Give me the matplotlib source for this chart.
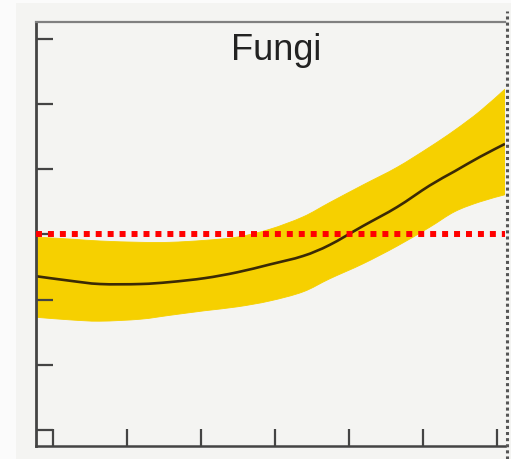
import matplotlib
matplotlib.use("Agg")
import numpy as np
import matplotlib.pyplot as plt
from matplotlib.patches import Rectangle, PathPatch
from matplotlib.path import Path
from matplotlib.lines import Line2D

# Smoothed trend for fungi with its confidence band
x = [-0.23, 0.23, 0.635, 1.18, 1.58, 2.05, 2.49, 2.93, 3.38, 3.74, 4.19, 4.65, 5.09, 5.43, 5.77, 6.11]
trend = [2.36, 2.29, 2.24, 2.24, 2.27, 2.33, 2.42, 2.54, 2.67, 2.84, 3.13, 3.42, 3.75, 3.97, 4.19, 4.39]
upper = [2.96, 2.93, 2.90, 2.88, 2.88, 2.91, 2.96, 3.08, 3.27, 3.49, 3.76, 4.03, 4.34, 4.60, 4.89, 5.23]
lower = [1.73, 1.69, 1.67, 1.70, 1.76, 1.83, 1.89, 1.98, 2.12, 2.32, 2.55, 2.82, 3.11, 3.35, 3.50, 3.61]

reference_level = 3.0
x_ticks = [0, 1, 2, 3, 4, 5, 6]
y_ticks = [0, 1, 2, 3, 4, 5, 6]
title = "Fungi"


def smooth_segments(px, py):
    """Cubic Bezier segments (Catmull-Rom) passing through the given points."""
    p = np.column_stack([px, py]).astype(float)
    verts, codes = [p[0]], []
    n = len(p)
    for i in range(n - 1):
        p0 = p[i - 1] if i > 0 else p[i]
        p1, p2 = p[i], p[i + 1]
        p3 = p[i + 2] if i + 2 < n else p[i + 1]
        c1 = p1 + (p2 - p0) / 6.0
        c2 = p2 - (p3 - p1) / 6.0
        verts += [c1, c2, p2]
        codes += [Path.CURVE4] * 3
    return verts, codes


W, H = 511, 460
fig = plt.figure(figsize=(W / 100, H / 100), dpi=100)
fig.patch.set_facecolor("#f4f4f2")
# pale strips along the left and top edges
fig.patches.append(Rectangle((0, 0), 16 / W, 1, transform=fig.transFigure,
                             facecolor="#fbfbfb", edgecolor="none", zorder=0))
fig.patches.append(Rectangle((0, 1 - 4 / H), 1, 4 / H, transform=fig.transFigure,
                             facecolor="#fbfbfb", edgecolor="none", zorder=0))

left, right, bottom, top = 36 / W, 505 / W, 13 / H, 1 - 23 / H
ax = fig.add_axes([left, bottom, right - left, top - bottom])
ax.set_facecolor("#f4f4f2")

# confidence band: upper edge forward, lower edge back
uv, uc = smooth_segments(x, upper)
lv, lc = smooth_segments(x[::-1], lower[::-1])
band_verts = uv + [lv[0]] + lv[1:] + [uv[0]]
band_codes = [Path.MOVETO] + uc + [Path.LINETO] + lc + [Path.CLOSEPOLY]
ax.add_patch(PathPatch(Path(band_verts, band_codes), facecolor="#f6d000",
                       edgecolor="#f6d000", linewidth=0.6, zorder=1))

tv, tc = smooth_segments(x, trend)
ax.add_patch(PathPatch(Path(tv, [Path.MOVETO] + tc), facecolor="none",
                       edgecolor="#3b2a05", linewidth=1.9, zorder=2))

ax.axhline(reference_level, color="#ff0000", linewidth=4.3,
           linestyle=(0, (1, 1)), dash_capstyle="butt", zorder=3)

ax.set_xlim(-0.23, 6.11)
ax.set_ylim(-0.245, 6.26)
ax.set_xticks(x_ticks)
ax.set_yticks(y_ticks)
ax.set_xticklabels([])
ax.set_yticklabels([])
ax.tick_params(axis="both", direction="in", length=12, width=1.6, color="#444444")

ax.spines["left"].set_color("#444444")
ax.spines["left"].set_linewidth(2.0)
ax.spines["bottom"].set_color("#444444")
ax.spines["bottom"].set_linewidth(1.8)
ax.spines["top"].set_color("#808080")
ax.spines["top"].set_linewidth(1.6)
ax.spines["right"].set_visible(False)

# dotted border running down the right edge
fig.add_artist(Line2D([507 / W, 507 / W], [0, 1 - 12 / H], transform=fig.transFigure,
                      color="#555555", linewidth=2.2, linestyle=(0, (1, 1)),
                      dash_capstyle="butt"))

fig.text(276 / W, 1 - 50 / H, title, ha="center", va="center",
         fontsize=26, family="Liberation Sans", color="#222222")

fig.savefig("out.png", dpi=100, facecolor=fig.get_facecolor())
